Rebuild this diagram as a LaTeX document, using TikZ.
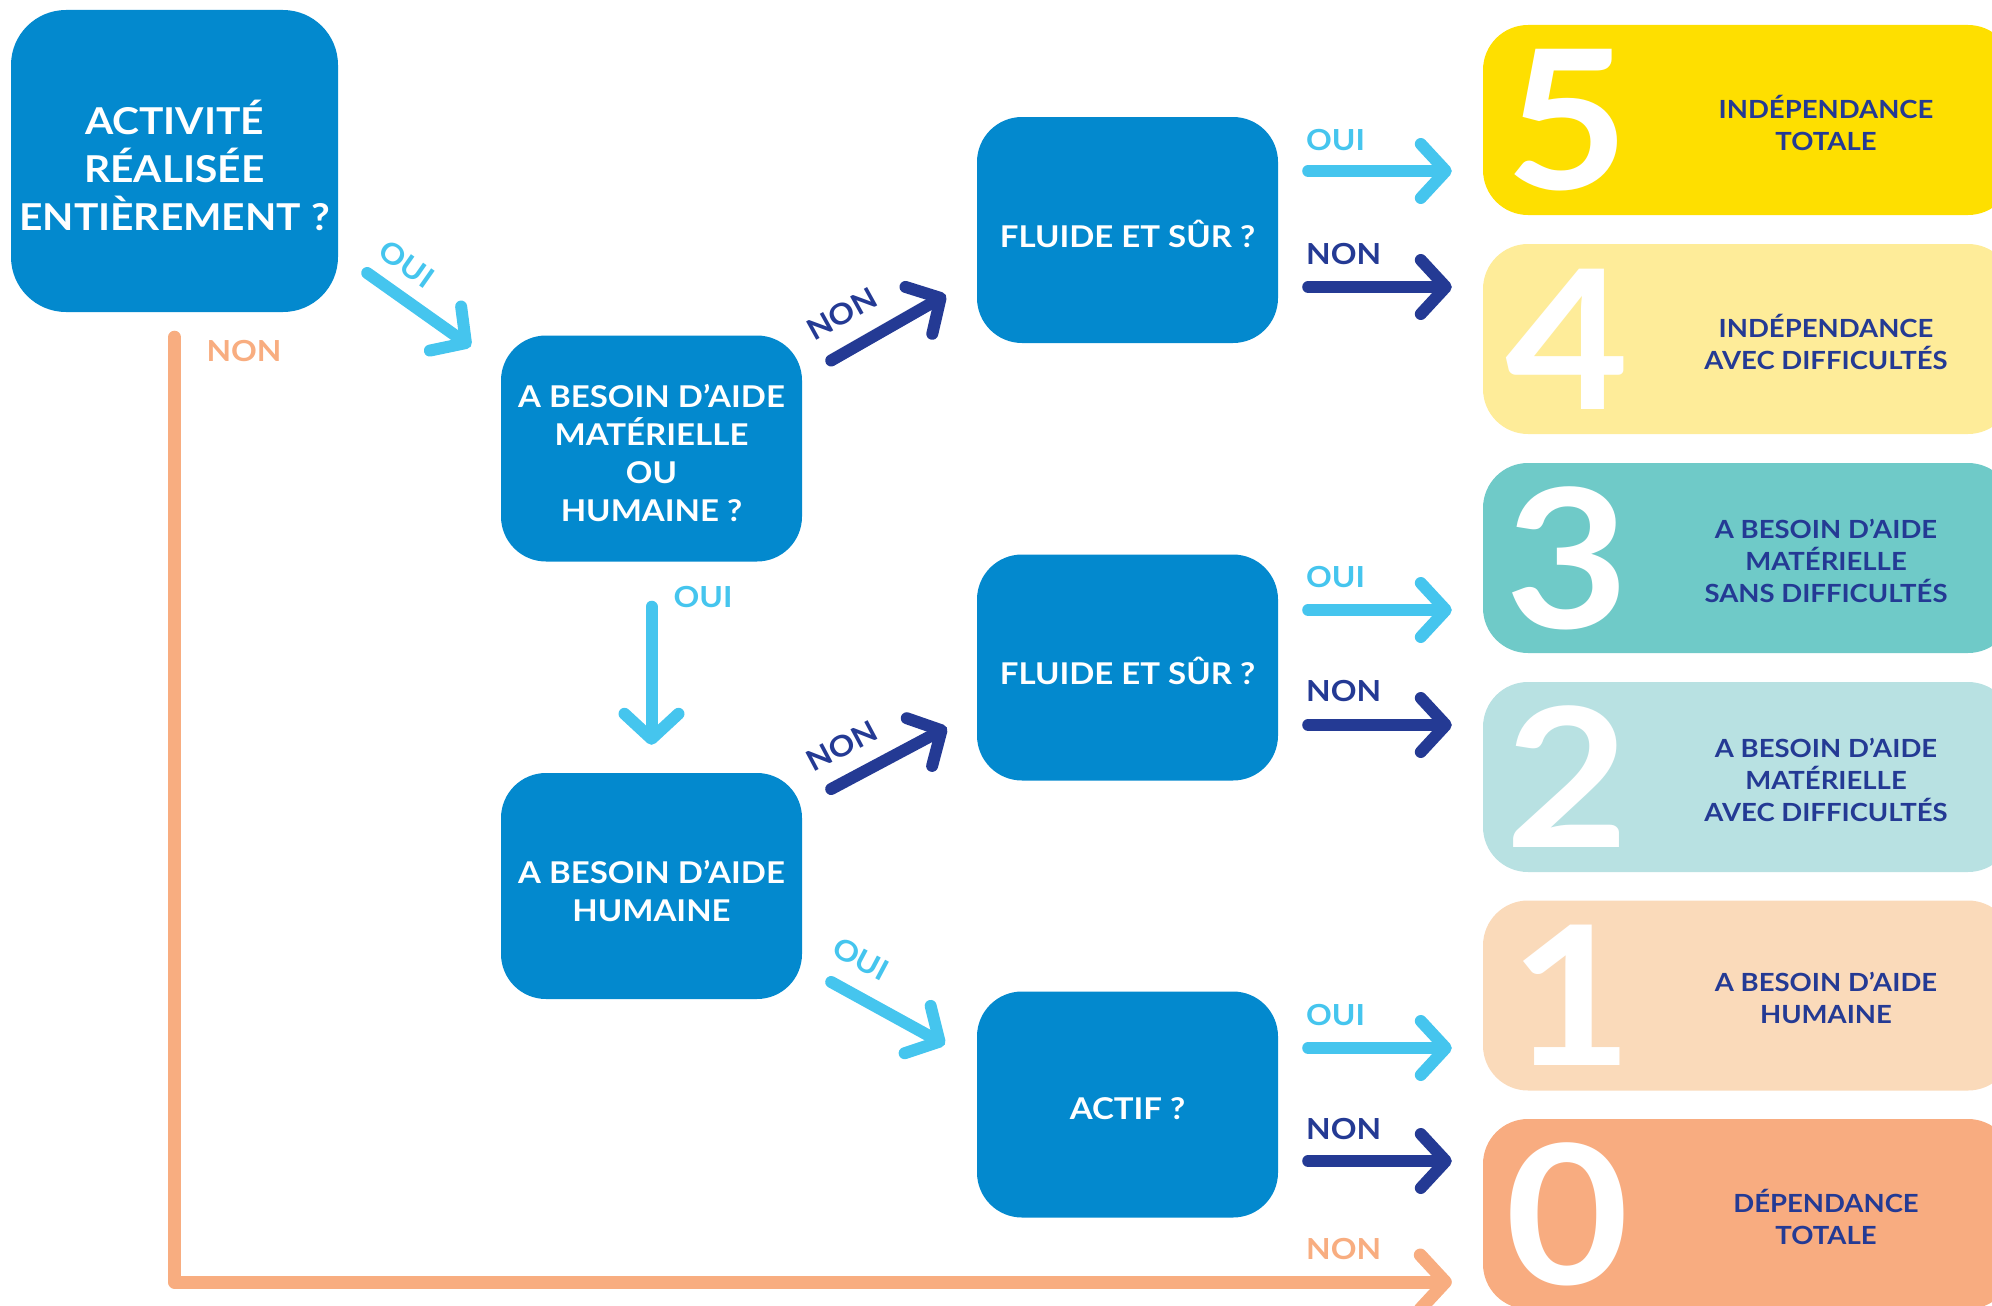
\documentclass[tikz,border=0pt]{standalone}
\usepackage{fontspec}
\setmainfont{Lato}[FakeStretch=1.1]
\usetikzlibrary{arrows.meta}
\definecolor{sblue}{HTML}{0389CE}
\definecolor{slight}{HTML}{45C5EE}
\definecolor{sdark}{HTML}{243A94}
\definecolor{sorange}{HTML}{F8AD80}
\definecolor{lvfive}{HTML}{FEDF00}
\definecolor{lvfour}{HTML}{FEEC99}
\definecolor{lvthree}{HTML}{6FCAC8}
\definecolor{lvtwo}{HTML}{B8E1E2}
\definecolor{lvone}{HTML}{FADABA}
\definecolor{lvzero}{HTML}{F8AC80}

\begin{document}
\begin{tikzpicture}[x=1pt, y=-1pt,
    DEC/.style={rectangle, fill=sblue, text=white, rounded corners=45pt, minimum width=301pt, minimum height=226pt, align=center, inner sep=0pt, font=\fontsize{30}{38}\selectfont\bfseries},
    RES/.style={rectangle, rounded corners=45pt, minimum width=530pt, minimum height=190pt, inner sep=0pt},
    NUM/.style={text=white, inner sep=0pt, font=\fontsize{194}{194}\selectfont\bfseries},
    LAB/.style={text=sdark, align=center, inner sep=0pt, font=\fontsize{25}{32}\selectfont\bfseries},
    TAG/.style={inner sep=0pt, font=\fontsize{29}{29}\selectfont\bfseries},
    ARW/.style={line width=12pt, line cap=round, line join=round, -{Straight Barb[length=25pt, width=54pt, line cap=round, line join=round]}}
    ]
    \useasboundingbox (0,0) rectangle (1992,1306);

    % questions
    \node[DEC, minimum width=327pt, minimum height=302pt, rounded corners=55pt, text height=140pt, font=\fontsize{37}{48}\selectfont\bfseries] (A) at (174.5,161) {ACTIVITÉ\\RÉALISÉE\\ENTIÈREMENT ?};
    \node[DEC, text height=147pt] (B) at (651.5,448.5) {A BESOIN D’AIDE\\MATÉRIELLE\\OU\\HUMAINE ?};
    \node[DEC, text height=72pt] (C) at (651.5,886) {A BESOIN D’AIDE\\HUMAINE};
    \node[DEC, text height=35pt] (D) at (1127.5,230) {FLUIDE ET SÛR ?};
    \node[DEC, text height=35pt] (E) at (1127.5,667.5) {FLUIDE ET SÛR ?};
    \node[DEC, text height=31pt] (F) at (1127.5,1104.5) {ACTIF ?};

    % levels
    \node[RES, fill=lvfive] (R5) at (1748,120) {};
    \node[NUM] (N5) at (1567,120) {5};
    \node[LAB] (T5) at (1826,123) {INDÉPENDANCE\\TOTALE};
    \node[RES, fill=lvfour] (R4) at (1748,339) {};
    \node[NUM] (N4) at (1567,339) {4};
    \node[LAB] (T4) at (1826,342) {INDÉPENDANCE\\AVEC DIFFICULTÉS};
    \node[RES, fill=lvthree] (R3) at (1748,558) {};
    \node[NUM] (N3) at (1567,558) {3};
    \node[LAB] (T3) at (1826,561) {A BESOIN D’AIDE\\MATÉRIELLE\\SANS DIFFICULTÉS};
    \node[RES, fill=lvtwo] (R2) at (1748,777) {};
    \node[NUM] (N2) at (1567,777) {2};
    \node[LAB] (T2) at (1826,780) {A BESOIN D’AIDE\\MATÉRIELLE\\AVEC DIFFICULTÉS};
    \node[RES, fill=lvone] (R1) at (1748,995.5) {};
    \node[NUM] (N1) at (1571,995.5) {1};
    \node[LAB] (T1) at (1826,998) {A BESOIN D’AIDE\\HUMAINE};
    \node[RES, fill=lvzero] (R0) at (1748,1214) {};
    \node[NUM] (N0) at (1567,1214) {0};
    \node[LAB] (T0) at (1826,1217) {DÉPENDANCE\\TOTALE};

    % arrows
    \draw[ARW, sorange, line width=13pt] ([yshift=-25pt]A.south) |- ([xshift=-31pt,yshift=-68pt]R0.west);
    \draw[ARW, slight] ([xshift=29pt,yshift=-112pt]A.east) -- ([xshift=-30pt,yshift=102pt]B.west);
    \draw[ARW, slight] ([yshift=-45pt]B.south) -- ([yshift=28pt]C.north);
    \draw[ARW, sdark] ([xshift=29pt,yshift=88pt]B.east) -- ([xshift=-31pt,yshift=-65pt]D.west);
    \draw[ARW, sdark] ([xshift=29pt,yshift=97pt]C.east) -- ([xshift=-30pt,yshift=-60pt]E.west);
    \draw[ARW, slight] ([xshift=29pt,yshift=-96pt]C.east) -- ([xshift=-32pt,yshift=60pt]F.west);
    \draw[ARW, slight] ([xshift=30pt,yshift=59pt]D.east) -- ([xshift=-31pt,yshift=-51pt]R5.west);
    \draw[ARW, sdark] ([xshift=30pt,yshift=-57pt]D.east) -- ([xshift=-31pt,yshift=52pt]R4.west);
    \draw[ARW, slight] ([xshift=30pt,yshift=57.5pt]E.east) -- ([xshift=-31pt,yshift=-52pt]R3.west);
    \draw[ARW, sdark] ([xshift=30pt,yshift=-57.5pt]E.east) -- ([xshift=-31pt,yshift=52pt]R2.west);
    \draw[ARW, slight] ([xshift=30pt,yshift=56.5pt]F.east) -- ([xshift=-31pt,yshift=-52.5pt]R1.west);
    \draw[ARW, sdark] ([xshift=30pt,yshift=-56.5pt]F.east) -- ([xshift=-31pt,yshift=53pt]R0.west);

    % answers
    \node[TAG, text=slight, rotate=-35] (o1) at (407,264) {OUI};
    \node[TAG, text=sorange] (n1) at (244,351) {NON};
    \node[TAG, text=slight] (o2) at (703,597) {OUI};
    \node[TAG, text=sdark, rotate=29] (n2) at (842,314) {NON};
    \node[TAG, text=sdark, rotate=28] (n3) at (842,746) {NON};
    \node[TAG, text=slight, rotate=-28] (o3) at (861,959) {OUI};
    \node[TAG, text=slight, anchor=west] (o4) at (1306,140) {OUI};
    \node[TAG, text=sdark, anchor=west] (n4) at (1306,254) {NON};
    \node[TAG, text=slight, anchor=west] (o5) at (1306,577) {OUI};
    \node[TAG, text=sdark, anchor=west] (n5) at (1306,691) {NON};
    \node[TAG, text=slight, anchor=west] (o6) at (1306,1015) {OUI};
    \node[TAG, text=sdark, anchor=west] (n6) at (1306,1129) {NON};
    \node[TAG, text=sorange, anchor=west] (n7) at (1306,1249) {NON};
\end{tikzpicture}
\end{document}
